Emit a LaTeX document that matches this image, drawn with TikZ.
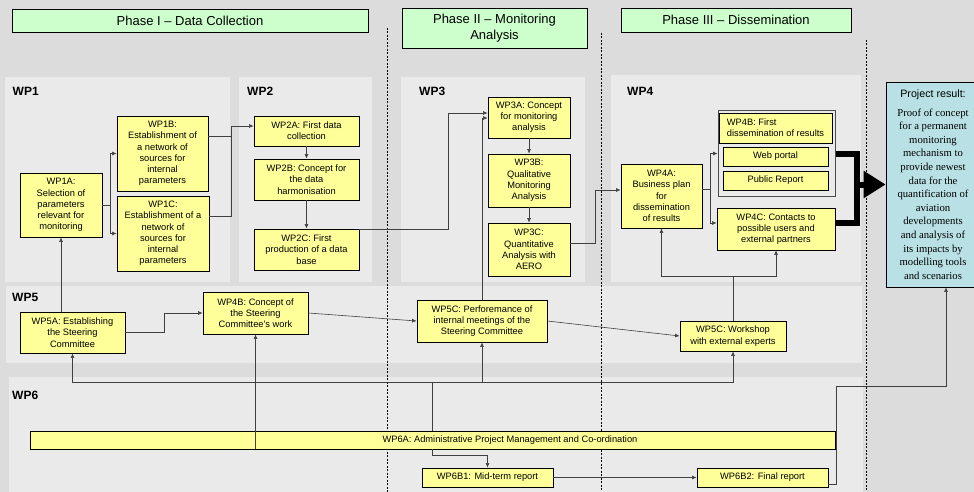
\documentclass[tikz,border=0pt]{standalone}
\usepackage{fontspec}
\setmainfont{Liberation Sans}
\newfontfamily\resultfont{Liberation Serif}
\usetikzlibrary{arrows.meta}
\definecolor{taskyellow}{HTML}{FFFF99}
\definecolor{phasegreen}{HTML}{CCFFCC}
\definecolor{resultcyan}{HTML}{B9E1E5}
\definecolor{backgray}{HTML}{DCDCDC}
\definecolor{panelgray}{HTML}{EAEAEA}

\begin{document}
\begin{tikzpicture}[x=1pt, y=-1pt, >={Latex[length=4.5pt,width=4pt]},
	task/.style={draw, line width=0.8pt, fill=taskyellow, align=center, inner sep=1pt, font=\fontsize{9.3}{11.2}\selectfont},
	phase/.style={draw, line width=0.8pt, fill=phasegreen, align=center, inner sep=1pt, font=\fontsize{13}{16}\selectfont},
	wplabel/.style={anchor=west, inner sep=0pt, font=\bfseries\fontsize{12}{14}\selectfont},
	groupbox/.style={draw=black!70, line width=1pt, fill=panelgray, inner sep=0pt},
	resultbox/.style={draw, line width=0.8pt, fill=resultcyan, align=center, inner sep=1pt, font=\resultfont\fontsize{10.7}{13.6}\selectfont},
	link/.style={draw=black!75, line width=0.6pt},
	bigline/.style={line width=6pt},
	phaseline/.style={line width=0.7pt, dash pattern=on 2pt off 1.5pt}]
		\fill[backgray] (0,0) rectangle (974,492);
		\useasboundingbox (0,0) rectangle (974,492);
		\fill[panelgray] (5,77) rectangle (230,282);
		\fill[panelgray] (239,77) rectangle (372,282);
		\fill[panelgray] (401,77) rectangle (585,282);
		\fill[panelgray] (611,75) rectangle (861,282);
		\fill[panelgray] (6,286) rectangle (862,363);
		\fill[panelgray] (9,377) rectangle (863,492);
		\draw[phaseline] (387,28) -- (387,492);
		\draw[phaseline] (601,33) -- (601,492);
		\draw[phaseline] (866,40) -- (866,492);

		\node[phase, minimum width=356pt, minimum height=23pt] (PhaseOne) at (190,20.5) {Phase I -- Data Collection};
		\node[phase, minimum width=185pt, minimum height=40pt] (PhaseTwo) at (494.5,28) {Phase II -- Monitoring\\ Analysis};
		\node[phase, minimum width=230pt, minimum height=24pt] (PhaseThree) at (736,20) {Phase III -- Dissemination};

		\node[wplabel] (labelWP1) at (12.5,91) {WP1};
		\node[wplabel] (labelWP2) at (247,91) {WP2};
		\node[wplabel] (labelWP3) at (419,91) {WP3};
		\node[wplabel] (labelWP4) at (627,91) {WP4};
		\node[wplabel] (labelWP5) at (12,297) {WP5};
		\node[wplabel] (labelWP6) at (12,395) {WP6};

		\node[task, minimum width=82pt, minimum height=64pt] (WP1A) at (61,205) {WP1A:\\ Selection of\\ parameters\\ relevant for\\ monitoring};
		\node[task, minimum width=91pt, minimum height=75pt] (WP1B) at (162.5,153.5) {WP1B:\\ Establishment of\\ a network of\\ sources for\\ internal\\ parameters};
		\node[task, minimum width=92pt, minimum height=75pt] (WP1C) at (163,233.5) {WP1C:\\ Establishment of a\\ network of\\ sources for\\ internal\\ parameters};
		\node[task, minimum width=105pt, minimum height=30pt] (WP2A) at (306.5,131) {WP2A: First data\\ collection};
		\node[task, minimum width=105pt, minimum height=41pt] (WP2B) at (306.5,179.5) {WP2B: Concept for\\ the data\\ harmonisation};
		\node[task, minimum width=105pt, minimum height=41pt] (WP2C) at (306.5,249.5) {WP2C: First\\ production of a data\\ base};
		\node[task, minimum width=82pt, minimum height=41pt] (WP3A) at (529,117.5) {WP3A: Concept\\ for monitoring\\ analysis};
		\node[task, minimum width=82pt, minimum height=53pt] (WP3B) at (529,180.5) {WP3B:\\ Qualitative\\ Monitoring\\ Analysis};
		\node[task, minimum width=82pt, minimum height=53pt] (WP3C) at (529,249.5) {WP3C:\\ Quantitative\\ Analysis with\\ AERO};
		\node[task, minimum width=81pt, minimum height=64pt] (WP4A) at (661.5,196) {WP4A:\\ Business plan\\ for\\ dissemination\\ of results};
		\node[groupbox, minimum width=117pt, minimum height=85pt] (WP4Bbox) at (776.5,153.5) {};
		\node[task, align=left, minimum width=113pt, minimum height=30pt] (WP4B) at (775.5,128) {WP4B: First\\ dissemination of results};
		\node[task, minimum width=105pt, minimum height=19pt] (webPortal) at (775.5,156.5) {Web portal};
		\node[task, minimum width=105pt, minimum height=19pt] (publicReport) at (775.5,180.5) {Public Report};
		\node[task, minimum width=118pt, minimum height=42pt] (WP4C) at (776,229) {WP4C: Contacts to\\ possible users and\\ external partners};
		\node[resultbox, minimum width=94pt, minimum height=205pt] (Result) at (933,184.5) {{\rmfamily Project result:}\\[5pt] Proof of concept\\ for a permanent\\ monitoring\\ mechanism to\\ provide newest\\ data for the\\ quantification of\\ aviation\\ developments\\ and analysis of\\ its impacts by\\ modelling tools\\ and scenarios};
		\node[task, minimum width=105pt, minimum height=41pt] (WP5A) at (72.5,332.5) {WP5A: Establishing\\ the Steering\\ Committee};
		\node[task, minimum width=105pt, minimum height=42pt] (WP5B) at (255.5,313) {WP4B: Concept of\\ the Steering\\ Committee's work};
		\node[task, minimum width=130pt, minimum height=42pt] (WP5C) at (482,321) {WP5C: Perforemance of\\ internal meetings of the\\ Steering Committee};
		\node[task, minimum width=106pt, minimum height=30pt] (WP5D) at (733,336) {WP5C: Workshop\\ with external experts};
		\node[task, minimum width=805pt, minimum height=18pt] (WP6A) at (432.5,440) {};
		\node[font=\fontsize{9.3}{11.2}\selectfont, inner sep=0pt] (WP6Alabel) at (510,440) {WP6A: Administrative Project Management and Co-ordination};
		\node[task, minimum width=131pt, minimum height=19pt] (WP6B1) at (487.5,477.5) {WP6B1: Mid-term report};
		\node[task, minimum width=131pt, minimum height=19pt] (WP6B2) at (762.5,477.5) {WP6B2: Final report};

		\coordinate (splitOne) at (110,205);
		\coordinate (mergeTwo) at (231,126);
		\coordinate (bendThree) at (448,113);
		\coordinate (bendFour) at (595,190);
		\coordinate (splitFour) at (710,189);
		\coordinate (thickJoin) at (857,184.5);
		\coordinate (bendFive) at (164,313);
		\coordinate (splitFive) at (733,276);
		\coordinate (hubSix) at (432.5,382);
		\coordinate (splitSix) at (432.5,455);
		\coordinate (bendSix) at (836,386);

		\draw[link,->] (WP1A) -- (splitOne) |- (WP1B);
		\draw[link,->] (splitOne) |- (WP1C);
		\draw[link,->] ([yshift=17.5pt]WP1B.east) -| (mergeTwo) -- ([yshift=5pt]WP2A.west);
		\draw[link] ([yshift=17.5pt]WP1C.east) -| (mergeTwo);
		\draw[link,->] (WP2A) -- (WP2B);
		\draw[link,->] (WP2B) -- (WP2C);
		\draw[link,->] ([yshift=-1pt]WP2C.north east) -| (bendThree) -- ([yshift=4.5pt]WP3A.west);
		\draw[link,->] (WP5C.north) |- ([yshift=-0.5pt]WP3A.west);
		\draw[link,->] (WP3A) -- (WP3B);
		\draw[link,->] (WP3B) -- (WP3C);
		\draw[link,->] ([yshift=6.5pt]WP3C.east) -| (bendFour) -- ([yshift=6pt]WP4A.west);
		\draw[link,->] ([yshift=7pt]WP4A.east) -- (splitFour) |- (WP4Bbox);
		\draw[link,->] (splitFour) |- ([yshift=6pt]WP4C.west);
		\draw[bigline] (WP4Bbox.east) -| (thickJoin);
		\draw[bigline] ([yshift=6pt]WP4C.east) -| (thickJoin);
		\draw[bigline,-{Triangle[length=22pt,width=26pt]}] (thickJoin) -- (Result.west);
		\draw[link,->] (WP5D) -- (splitFive) -| (WP4A);
		\draw[link,->] (splitFive) -| (WP4C);
		\draw[link,->] (WP5A.north -| WP1A.south) -- (WP1A.south);
		\draw[link,->] (WP5A) -| (bendFive) -- (WP5B);
		\draw[link,->] (WP5B.east) -- (WP5C.west);
		\draw[link,->] (WP5C.east) -- (WP5D.west);
		\draw[link] (WP6A.north) -- (hubSix);
		\draw[link,->] (hubSix) -| (WP5A);
		\draw[link,->] (hubSix) -| (WP5C);
		\draw[link,->] (hubSix) -| (WP5D);
		\draw[link,->] (WP6A.south -| WP5B.south) -- (WP5B.south);
		\draw[link,->] (WP6A.south) -- (splitSix) -| (WP6B1);
		\draw[link,->] (WP6B1) -- (WP6B2);
		\draw[link,->] ([yshift=-6.5pt]WP6B2.east) -| (bendSix) -| ([xshift=13pt]Result.south);
\end{tikzpicture}
\end{document}
